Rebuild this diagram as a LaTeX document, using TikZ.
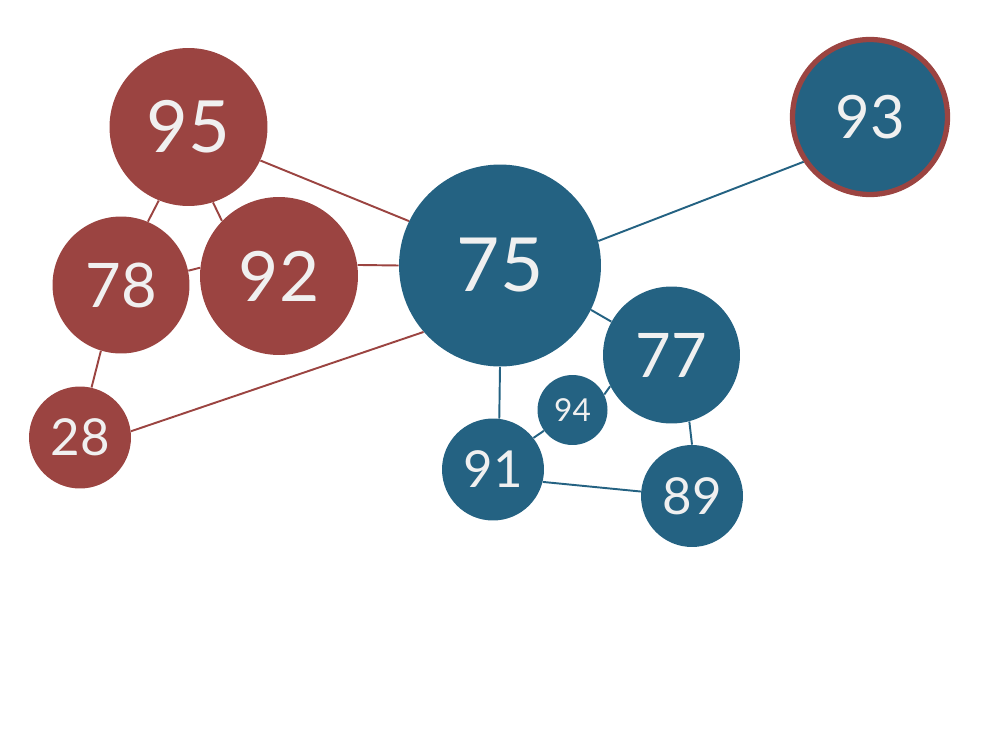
\documentclass[tikz,border=0pt]{standalone}
\usepackage{fontspec}
\setmainfont{Lato}
\usepackage{tikz}

\definecolor{rust}{HTML}{9B4441}
\definecolor{steel}{HTML}{246282}
\definecolor{pale}{HTML}{F0F0F0}

\begin{document}
\begin{tikzpicture}[x=0.02cm,y=-0.02cm,
    bubble/.style={circle,inner sep=0pt,text=pale},
    redbub/.style={bubble,fill=rust},
    bluebub/.style={bubble,fill=steel},
    redlink/.style={draw=rust,line width=1.1pt},
    bluelink/.style={draw=steel,line width=1.1pt}]
  \useasboundingbox (0,0) rectangle (1000,750);
  % red group
  \node[redbub,minimum size=3.16cm,font=\fontsize{41}{48}\selectfont] (n95) at (188.5,127) {95};
  \node[redbub,minimum size=2.74cm,font=\fontsize{35}{42}\selectfont] (n78) at (121,285) {78};
  \node[redbub,minimum size=3.16cm,font=\fontsize{39.5}{46}\selectfont] (n92) at (279,276) {92};
  \node[redbub,minimum size=2.04cm,font=\fontsize{29}{35}\selectfont] (n28) at (80,437.5) {28};
  % blue group
  \node[bluebub,minimum size=4.04cm,font=\fontsize{42.5}{50}\selectfont] (n75) at (500,265.5) {75};
  \node[bluebub,draw=rust,line width=3pt,minimum size=3.1cm,font=\fontsize{34}{40}\selectfont] (n93) at (870,117) {93};
  \node[bluebub,minimum size=2.74cm,font=\fontsize{35}{42}\selectfont] (n77) at (671.5,355) {77};
  \node[bluebub,minimum size=1.4cm,font=\fontsize{18}{22}\selectfont] (n94) at (572.5,410) {94};
  \node[bluebub,minimum size=2.04cm,font=\fontsize{29}{35}\selectfont] (n91) at (493,469.5) {91};
  \node[bluebub,minimum size=2.04cm,font=\fontsize{29}{35}\selectfont] (n89) at (692,496) {89};

  % links
  \draw[redlink] (n95.-25) -- (n75.154);
  \draw[redlink] (n95.248) -- (n78.67);
  \draw[redlink] (n95.-72) -- (n92.136);
  \draw[redlink] (n78.12) -- (n92.174);
  \draw[redlink] (n92.8) -- (n75.180);
  \draw[redlink] (n78.253) -- (n28.77);
  \draw[redlink] (n28.7) -- (n75.221);
  \draw[bluelink] (n75.14) -- (n93.214);
  \draw[bluelink] (n75.-26) -- (n77.151);
  \draw[bluelink] (n75.-90) -- (n91.83);
  \draw[bluelink] (n91.38) -- (n94.216);
  \draw[bluelink] (n94.26) -- (n77.207);
  \draw[bluelink] (n77.-75) -- (n89.90);
  \draw[bluelink] (n91.-14) -- (n89.175);
\end{tikzpicture}
\end{document}
